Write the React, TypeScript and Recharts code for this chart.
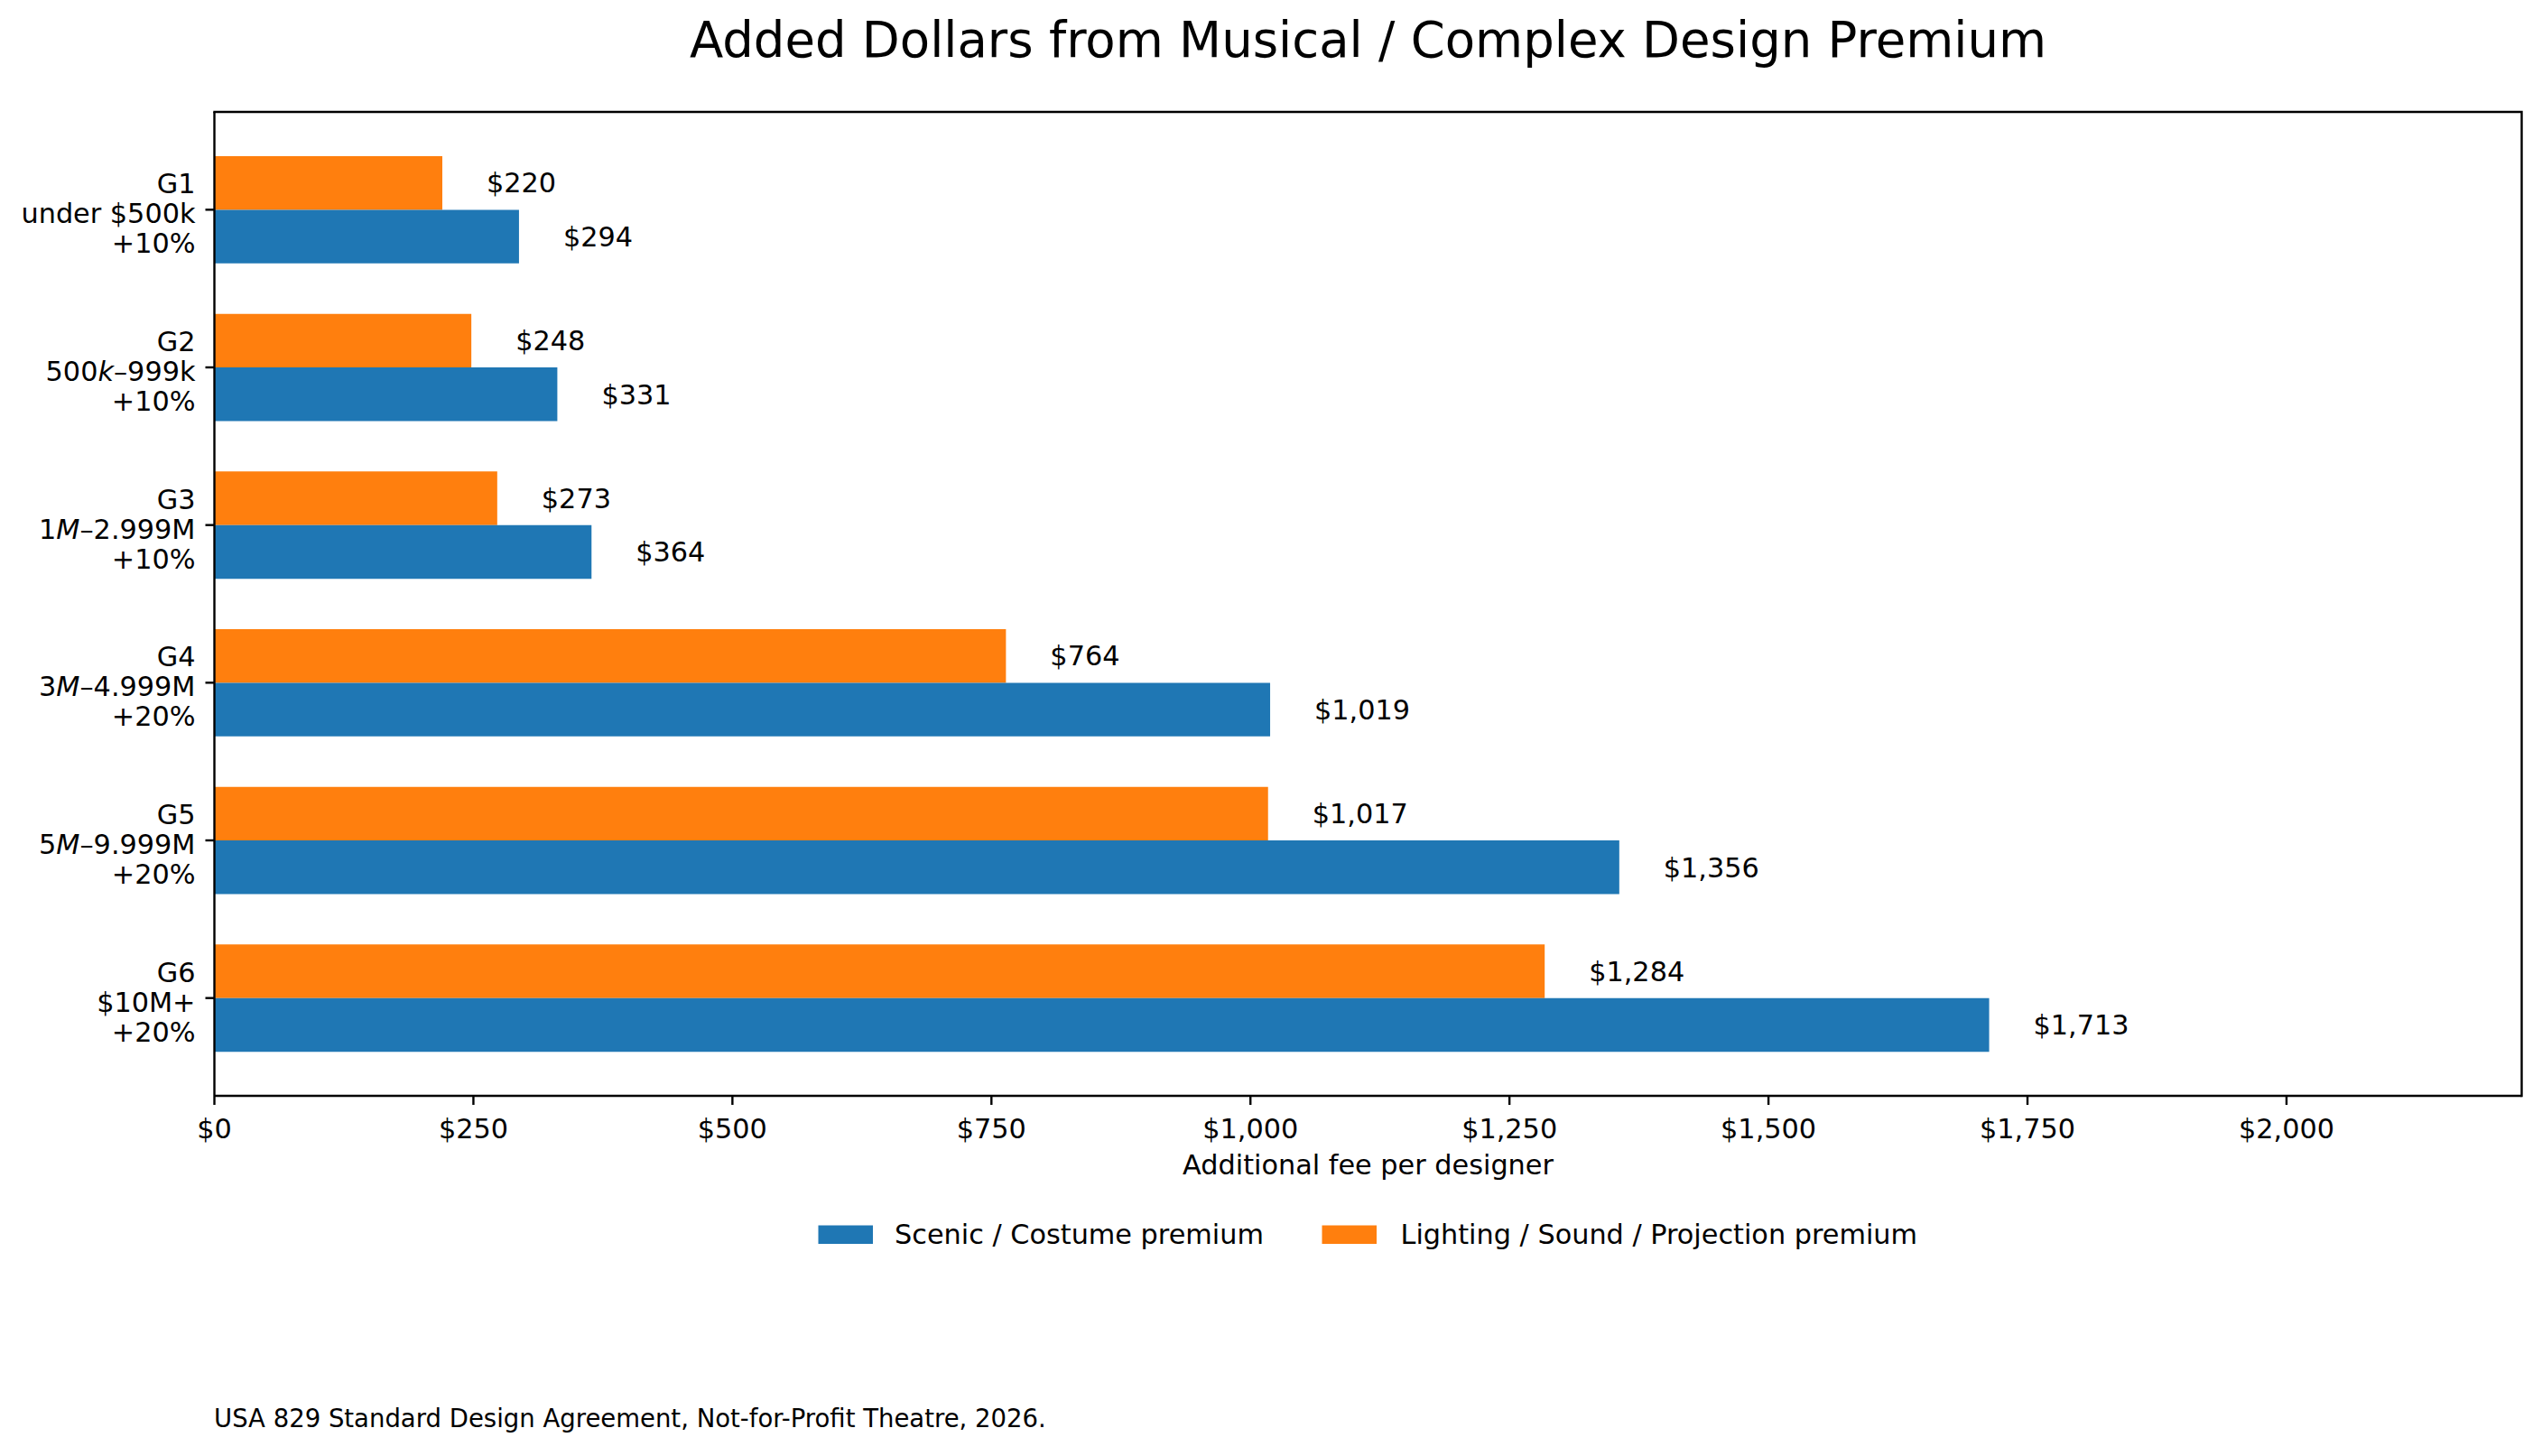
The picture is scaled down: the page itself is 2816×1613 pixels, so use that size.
import React from "react"
import { BarChart, Bar, XAxis, YAxis, LabelList } from "recharts"

const groups = ["G1", "G2", "G3", "G4", "G5", "G6"]
const budgetRanges = ["under $500k", "500k–999k", "1M–2.999M", "3M–4.999M", "5M–9.999M", "$10M+"]
const premiumRates = ["+10%", "+10%", "+10%", "+20%", "+20%", "+20%"]
const scenicPremium = [294, 331, 364, 1019, 1356, 1713]
const lightingPremium = [220, 248, 273, 764, 1017, 1284]
const feeTicks = [0, 250, 500, 750, 1000, 1250, 1500, 1750, 2000]

const W = 2816
const H = 1613
const FONT = "'DejaVu Sans', sans-serif"
const FS = 30.3
const BLUE = "#1f77b4"
const ORANGE = "#ff7f0e"
const AXIS_W = 2.4
const X_MAX = 2227

// plot box edges
const PLOT_L = 237.5
const PLOT_R = 2793.5
const PLOT_T = 124
const PLOT_B = 1214

const rows = groups.map((g, i) => ({
  group: g,
  scenic: scenicPremium[i],
  lighting: lightingPremium[i],
}))

const money = (v: number | string) => `$${Number(v).toLocaleString("en-US")}`

// "500k–999k" style ranges get their first unit letter in italics
function RangeText({ text }: { text: string }) {
  const m = text.match(/^(\d+)([kM])(–.*)$/)
  if (!m) return <>{text}</>
  return (
    <>
      {m[1]}
      <tspan fontStyle="italic">{m[2]}</tspan>
      {m[3]}
    </>
  )
}

function GroupTick(props: any) {
  const { x, y, payload } = props
  const i = groups.indexOf(payload.value)
  return (
    <text x={x} y={y} textAnchor="end" fontSize={FS} fontFamily={FONT} fill="#000">
      <tspan x={x} y={y - 18}>{groups[i]}</tspan>
      <tspan x={x} y={y + 15}>
        <RangeText text={budgetRanges[i]} />
      </tspan>
      <tspan x={x} y={y + 48}>{premiumRates[i]}</tspan>
    </text>
  )
}

export default function App() {
  const axisProps = { stroke: "#000", strokeWidth: AXIS_W }
  return (
    <div style={{ position: "absolute", left: 0, top: 0, width: W, height: H, background: "#fff" }}>
      <BarChart
        width={W}
        height={H}
        data={rows}
        layout="vertical"
        margin={{ top: PLOT_T, right: W - PLOT_R, bottom: H - PLOT_B - 100, left: 0 }}
        barGap={0}
      >
        <XAxis
          type="number"
          domain={[0, X_MAX]}
          ticks={feeTicks}
          tickFormatter={money}
          height={100}
          tickSize={10}
          tickMargin={15}
          axisLine={axisProps}
          tickLine={axisProps}
          tick={{ fill: "#000", fontSize: FS, fontFamily: FONT }}
          allowDataOverflow
        />
        <YAxis
          type="category"
          dataKey="group"
          width={PLOT_L}
          padding={{ top: 21, bottom: 21 }}
          tickSize={10}
          tickMargin={11}
          axisLine={axisProps}
          tickLine={axisProps}
          tick={<GroupTick />}
          interval={0}
        />
        <Bar dataKey="lighting" fill={ORANGE} barSize={59.4} isAnimationActive={false}>
          <LabelList
            dataKey="lighting"
            position="right"
            offset={49}
            formatter={money}
            fill="#000"
            fontSize={FS}
            fontFamily={FONT}
          />
        </Bar>
        <Bar dataKey="scenic" fill={BLUE} barSize={59.4} isAnimationActive={false}>
          <LabelList
            dataKey="scenic"
            position="right"
            offset={49}
            formatter={money}
            fill="#000"
            fontSize={FS}
            fontFamily={FONT}
          />
        </Bar>
      </BarChart>

      <svg
        width={W}
        height={H}
        style={{ position: "absolute", left: 0, top: 0, pointerEvents: "none" }}
        fontFamily={FONT}
      >
        {/* top and right spines closing the plot box */}
        <polyline
          points={`${PLOT_L},${PLOT_T} ${PLOT_R},${PLOT_T} ${PLOT_R},${PLOT_B}`}
          fill="none"
          stroke="#000"
          strokeWidth={AXIS_W}
          strokeLinecap="square"
        />

        <text x={1515.5} y={63} textAnchor="middle" fontSize={54.5} fill="#000">
          Added Dollars from Musical / Complex Design Premium
        </text>
        <text x={1515.5} y={1301} textAnchor="middle" fontSize={FS} fill="#000">
          Additional fee per designer
        </text>

        <rect x={906.5} y={1357.5} width={60.5} height={20.5} fill={BLUE} />
        <text x={991} y={1378} fontSize={FS} fill="#000">
          Scenic / Costume premium
        </text>
        <rect x={1464.5} y={1357.5} width={60.5} height={20.5} fill={ORANGE} />
        <text x={1551.5} y={1378} fontSize={FS} fill="#000">
          Lighting / Sound / Projection premium
        </text>

        <text x={237} y={1581} fontSize={27.5} fill="#000">
          USA 829 Standard Design Agreement, Not-for-Profit Theatre, 2026.
        </text>
      </svg>
    </div>
  )
}
